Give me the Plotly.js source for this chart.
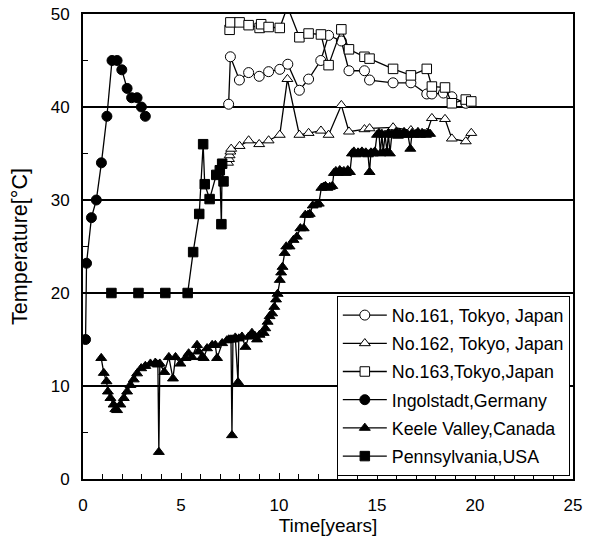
<!DOCTYPE html>
<html>
<head>
<meta charset="utf-8">
<script src="https://cdn.plot.ly/plotly-3.0.1.min.js"></script>
<style>html,body{margin:0;padding:0;background:#fff;}#chart{width:595px;height:537px;}</style>
</head>
<body>
<div id="chart"></div>
<script>
// Series names
const seriesNames = ["No.161, Tokyo, Japan","No.162, Tokyo, Japan","No.163,Tokyo,Japan","Ingolstadt,Germany","Keele Valley,Canada","Pennsylvania,USA"];

// No.161, Tokyo
const n161T = [7.43,7.52,7.98,8.45,8.99,9.47,10.04,10.45,11.04,11.51,12.13,12.53,13.18,13.57,14.36,14.62,15.82,16.73,17.54,17.8,18.39,18.82,19.53];
const n161V = [40.3,45.4,42.9,43.7,43.3,43.8,44.05,44.6,41.8,43.0,45.0,47.7,47.1,43.9,43.9,42.9,42.6,42.6,41.4,41.4,41.5,41.1,40.4];

// No.162, Tokyo
const n162T = [7.4,7.45,7.48,7.52,7.56,7.99,8.45,8.99,9.47,10.04,10.43,11.04,11.51,12.14,12.53,13.18,13.57,14.36,14.62,15.82,16.73,17.54,17.8,18.47,18.82,19.53,19.81];
const n162V = [34.0,34.4,34.8,35.2,35.5,35.8,36.4,36.0,36.4,37.0,43.0,37.0,37.2,37.45,37.0,40.2,37.35,37.6,37.7,37.8,37.5,37.2,38.8,38.7,36.6,36.3,37.2];

// No.163, Tokyo
const n163T = [7.48,7.52,7.99,8.45,9.01,9.09,9.47,10.04,10.43,11.04,11.51,12.14,12.53,13.18,13.57,14.36,14.62,15.82,16.73,17.54,17.8,18.47,18.82,19.53,19.81];
const n163V = [48.3,49.1,49.1,48.8,48.5,48.9,48.6,48.5,50.8,47.5,47.9,47.8,44.5,48.35,46.2,45.4,45.2,44.1,43.4,44.1,42.2,42.1,40.4,40.8,40.6];

// Ingolstadt, Germany
const ingT = [0.13,0.18,0.43,0.68,0.94,1.22,1.48,1.74,1.98,2.25,2.48,2.76,2.98,3.18];
const ingV = [15.0,23.2,28.1,30.0,34.0,39.0,45.0,45.0,44.0,42.0,41.0,41.0,40.0,39.0];

// Keele Valley, Canada
const keeleT = [0.93,1.06,1.2,1.27,1.4,1.56,1.65,1.74,1.91,2.08,
  2.25,2.42,2.59,2.76,2.97,3.18,3.44,3.69,3.82,3.87,
  3.92,4.15,4.38,4.59,4.72,4.97,5.23,5.39,5.56,5.82,
  5.9,6.08,6.16,6.33,6.59,6.75,6.84,7.1,7.34,7.44,
  7.55,7.6,7.65,7.77,7.91,7.95,8.11,8.29,8.45,8.62,
  8.76,8.88,9.01,9.22,9.3,9.42,9.52,9.65,9.76,9.85,
  9.93,10.04,10.11,10.18,10.29,10.37,10.54,10.74,10.91,11.09,
  11.26,11.34,11.48,11.57,11.72,11.9,12.03,12.16,12.27,12.37,
  12.47,12.59,12.72,12.8,12.9,13.0,13.1,13.21,13.31,13.41,
  13.51,13.62,13.72,13.82,13.92,14.03,14.13,14.23,14.33,14.43,
  14.54,14.62,14.69,14.79,14.89,15.0,15.1,15.17,15.25,15.32,
  15.41,15.51,15.58,15.66,15.76,15.87,15.97,16.07,16.17,16.27,
  16.38,16.48,16.58,16.7,16.79,16.89,16.99,17.09,17.2,17.3,
  17.4,17.5,17.61,17.71];
const keeleV = [13.0,11.4,10.5,9.4,8.7,8.0,7.5,7.4,8.0,8.7,
  9.4,10.1,10.7,11.35,11.9,12.15,12.4,12.5,12.3,2.9,
  12.4,11.5,13.1,10.8,13.1,12.4,13.0,13.5,13.1,14.4,
  13.7,13.1,13.0,14.05,14.4,14.4,13.0,14.6,14.9,15.0,
  15.0,4.7,15.0,15.2,10.4,15.1,15.3,14.2,15.3,15.7,
  15.4,15.0,15.5,15.7,16.2,16.9,17.5,17.8,18.5,19.3,
  19.9,21.4,22.2,22.8,24.3,25.0,25.0,25.7,26.05,26.95,
  26.95,28.4,28.4,28.5,29.4,29.5,29.6,31.3,31.4,31.5,
  31.3,31.4,31.5,32.9,33.1,32.9,33.2,33.0,33.1,32.9,
  33.2,33.0,35.0,35.2,34.9,35.1,35.0,35.2,35.0,35.1,
  34.9,33.0,35.1,35.0,35.2,37.0,37.2,35.0,37.1,35.1,
  37.0,35.2,37.2,35.0,37.1,37.0,37.3,36.9,37.2,37.0,
  37.3,37.1,37.0,35.5,37.2,37.0,37.1,37.3,37.0,37.2,
  37.1,37.0,37.2,37.1];

// Pennsylvania, USA
const pennT = [1.45,2.83,4.2,5.34,5.62,5.93,6.13,6.21,6.46,6.8,6.98,7.06,7.1,7.17];
const pennV = [20,20,20,20,24.4,28.5,36.0,31.7,30.1,32.7,33.2,27.4,33.9,32.0];

const FONT = "Arial, 'Liberation Sans', sans-serif";
const lineStyle = {color:'#000', width:1.3};

function mk(name, x, y, symbol, size, fill, grp){
  return {
    type:'scatter', mode:'lines+markers', name:name, x:x, y:y,
    legendgroup:grp,
    line:lineStyle,
    marker:{symbol:symbol, size:size, color:fill, line:{color:'#000', width:1}},
    cliponaxis:true
  };
}

const traces = [
  mk(seriesNames[0], n161T, n161V, 'circle', 10, '#fff', 'g1'),
  mk(seriesNames[1], n162T, n162V, 'triangle-up', 9.5, '#fff', 'g2'),
  mk(seriesNames[2], n163T, n163V, 'square', 9.5, '#fff', 'g3'),
  mk(seriesNames[3], ingT, ingV, 'circle', 10, '#000', 'g4'),
  mk(seriesNames[4], keeleT, keeleV, 'triangle-up', 9.5, '#000', 'g5'),
  mk(seriesNames[5], pennT, pennV, 'square', 9.5, '#000', 'g6')
];

const layout = {
  width:595, height:537,
  margin:{l:83, r:22, t:14, b:58},
  paper_bgcolor:'#fff', plot_bgcolor:'#fff',
  font:{family:FONT, size:17, color:'#000'},
  showlegend:true,
  legend:{
    x:0.518, xanchor:'left', y:0.3935, yanchor:'top',
    bgcolor:'#fff', bordercolor:'#000', borderwidth:1,
    font:{family:FONT, size:17.8, color:'#000'},
    traceorder:'grouped', tracegroupgap:2.06, itemwidth:44
  },
  xaxis:{
    range:[0,25], dtick:5, tick0:0,
    ticks:'inside', ticklen:6, tickwidth:1, tickcolor:'#000',
    minor:{dtick:1, ticks:'inside', ticklen:5, tickwidth:1, tickcolor:'#000', showgrid:false},
    showline:true, linecolor:'#000', linewidth:2, mirror:true,
    showgrid:false, zeroline:false,
    tickfont:{family:FONT, size:17, color:'#000'},
    ticklabelstandoff:10,
    title:{text:'Time[years]', font:{family:FONT, size:19, color:'#000'}, standoff:2}
  },
  yaxis:{
    range:[0,50], dtick:10, tick0:0,
    ticks:'inside', ticklen:5, tickwidth:1, tickcolor:'#000',
    minor:{dtick:5, ticks:'inside', ticklen:5, tickwidth:1, tickcolor:'#000', showgrid:false},
    showline:true, linecolor:'#000', linewidth:2, mirror:true,
    showgrid:true, gridcolor:'#000', gridwidth:1.3, zeroline:false,
    tickfont:{family:FONT, size:17, color:'#000'},
    ticklabelstandoff:8,
    title:{text:'Temperature[°C]', font:{family:FONT, size:21.5, color:'#000'}, standoff:17}
  }
};

Plotly.newPlot('chart', traces, layout, {displayModeBar:false, staticPlot:true});
</script>
</body>
</html>
